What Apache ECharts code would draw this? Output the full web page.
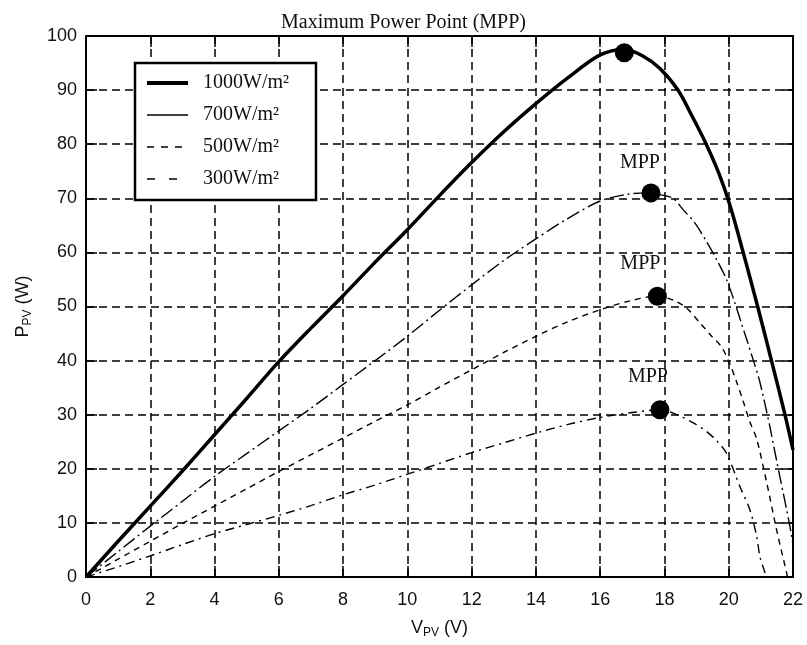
<!DOCTYPE html>
<html>
<head>
<meta charset="utf-8">
<script src="https://cdn.jsdelivr.net/npm/echarts@6/dist/echarts.min.js"></script>
<style>html,body{margin:0;padding:0;background:#fff}#c{width:807px;height:645px}</style>
</head>
<body>
<div id="c"></div>
<script>
// ---- data ----
const seriesNames = ['1000W/m²', '700W/m²', '500W/m²', '300W/m²'];

const v1000 = [0,1,2,3,4,5,6,7,8,9,10,11,12,13,14,15,16,16.75,17.3,17.86,18.42,18.85,19.3,19.7,20.05,20.45,20.9,21.33,21.75,22];
const p1000 = [0,6.6,13.1,19.6,26.3,33.0,39.8,46.0,52.0,58.2,64.2,70.5,76.6,82.3,87.5,92.3,96.5,97.5,96.4,94.0,90,85.3,80,74.5,68.5,60,50,40,30,23.5];

const v700 = [0,1,2,3,4,5,6,7,8,9,10,11,12,13,14,15,16,16.8,17.5,18.0,18.27,18.58,18.95,19.31,19.62,19.93,20.2,20.4,20.56,20.92,21.02,21.28,21.49,21.59,21.9,22];
const p700 = [0,4.7,9.4,14.0,18.6,22.8,27.0,31.2,35.6,40.0,44.5,49.3,54.0,58.5,62.5,66.3,69.5,70.7,71.0,70.5,70.0,67.9,65.4,62.0,58.7,55.0,50.5,46.8,43.9,37.1,34.8,27.8,21.5,18.6,9.5,6];

const v500 = [0,1,2,3,4,5,6,7,8,9,10,11,12,13,14,15,16,16.9,17.75,18.27,18.69,19.1,19.47,19.78,20.04,20.25,20.45,20.65,20.87,21.18,21.49,21.8,21.83];
const p500 = [0,3.3,6.6,9.9,13.1,16.3,19.5,22.6,25.7,28.8,31.8,35.1,38.3,41.5,44.5,47.2,49.4,51.0,51.9,51.2,49.7,47.0,44.5,42.5,39.3,36.0,32.5,28.8,25.5,17.5,8.7,0.8,0];

const v300 = [0,1,2,3,4,5,6,7,8,9,10,11,12,13,14,15,16,17,17.86,18.27,18.9,19.31,19.62,19.93,20.35,20.66,20.87,20.97,21.13,21.18];
const p300 = [0,1.9,3.9,6.0,8.0,9.7,11.4,13.2,15.2,17.0,19.0,21.0,23.0,24.8,26.6,28.2,29.5,30.4,30.9,30.3,28.5,26.9,25.2,22.9,16.7,12.4,7.5,3.8,0.8,0];

const mppV = [16.75, 17.58, 17.78, 17.86];
const mppP = [96.9, 71.0, 51.9, 30.9];
const mppText = ['', 'MPP', 'MPP', 'MPP'];

const xTicks = {min: 0, max: 22, step: 2};
const yTicks = {min: 0, max: 100, step: 10};

const titleText = 'Maximum Power Point (MPP)';
// ---------------------------------------

const zip = (a, b) => a.map((v, i) => [v, b[i]]);
const SERIF = '"Liberation Serif","Times New Roman",serif';
const SANS = '"Liberation Sans",Arial,sans-serif';

const lineStyles = [
  {color: '#000', width: 3.5, type: 'solid'},
  {color: '#000', width: 1.4, type: [14, 4, 2, 4]},
  {color: '#000', width: 1.4, type: [6, 5]},
  {color: '#000', width: 1.4, type: [9, 5, 2, 5]}
];
const legendLineStyles = [
  {color: '#000', width: 4, type: 'solid', opacity: 1},
  {color: '#000', width: 1.5, type: 'solid', opacity: 1},
  {color: '#000', width: 1.5, type: [7, 7], opacity: 1},
  {color: '#000', width: 1.5, type: [8, 14], opacity: 1}
];
const labelOffsets = [[0, 0], [-11, -30], [-17, -32], [-12, -33]];

const curves = [zip(v1000, p1000), zip(v700, p700), zip(v500, p500), zip(v300, p300)];

const chart = echarts.init(document.getElementById('c'), null, {renderer: 'canvas'});

const axisCommon = {
  axisLine: {show: true, onZero: false, lineStyle: {color: '#000', width: 2}},
  axisTick: {show: true, inside: true, length: 11, lineStyle: {color: '#000', width: 1.5}},
};

chart.setOption({
  animation: false,
  backgroundColor: '#fff',
  title: {
    text: titleText, left: 'center', top: 8,
    textStyle: {fontFamily: SERIF, fontWeight: 'normal', fontSize: 20, color: '#111'}
  },
  grid: {left: 86, right: 14, top: 36, bottom: 68, containLabel: false},
  legend: {
    orient: 'vertical', left: 135, top: 63,
    backgroundColor: '#fff', borderColor: '#000', borderWidth: 2.5, borderRadius: 0,
    padding: [10, 27, 11, 10],
    itemWidth: 41, itemHeight: 14, itemGap: 12,
    data: seriesNames.map((n, i) => ({name: n, lineStyle: legendLineStyles[i], itemStyle: {opacity: 0}})),
    textStyle: {fontFamily: SERIF, fontSize: 20, color: '#111', padding: [0, 0, 0, 10]}
  },
  xAxis: [
    Object.assign({
      type: 'value', min: xTicks.min, max: xTicks.max, interval: xTicks.step, position: 'bottom',
      name: 'V{sub|PV} (V)', nameLocation: 'middle', nameGap: 40,
      nameTextStyle: {fontFamily: SANS, fontSize: 18, color: '#111', lineHeight: 22,
        rich: {sub: {fontFamily: SANS, fontSize: 12, lineHeight: 12, verticalAlign: 'bottom', color: '#111'}}},
      axisLabel: {fontFamily: SANS, fontSize: 18, color: '#111', margin: 14},
      splitLine: {show: true, lineStyle: {color: '#000', width: 1.5, type: [8, 5]}}
    }, axisCommon),
    Object.assign({
      type: 'value', min: xTicks.min, max: xTicks.max, interval: xTicks.step, position: 'top',
      axisLabel: {show: false}, splitLine: {show: false}
    }, axisCommon)
  ],
  yAxis: [
    Object.assign({
      type: 'value', min: yTicks.min, max: yTicks.max, interval: yTicks.step, position: 'left',
      name: 'P{sub|PV} (W)', nameLocation: 'middle', nameGap: 52, nameRotate: 90,
      nameTextStyle: {fontFamily: SANS, fontSize: 18, color: '#111', lineHeight: 22,
        rich: {sub: {fontFamily: SANS, fontSize: 12, lineHeight: 12, verticalAlign: 'bottom', color: '#111'}}},
      axisLabel: {fontFamily: SANS, fontSize: 18, color: '#111', margin: 9},
      splitLine: {show: true, lineStyle: {color: '#000', width: 1.5, type: [8, 5]}}
    }, axisCommon),
    Object.assign({
      type: 'value', min: yTicks.min, max: yTicks.max, interval: yTicks.step, position: 'right',
      axisLabel: {show: false}, splitLine: {show: false}
    }, axisCommon)
  ],
  series: seriesNames.map((n, i) => ({
    name: n, type: 'line', data: curves[i], symbol: 'none', smooth: 0.3,
    lineStyle: lineStyles[i], itemStyle: {color: '#000'}, z: 3 + (3 - i)
  })).concat([{
    name: 'mpp', type: 'scatter', symbol: 'circle', symbolSize: 19, z: 10,
    itemStyle: {color: '#000', opacity: 1},
    emphasis: {disabled: true},
    data: mppV.map((v, i) => ({
      value: [v, mppP[i]],
      label: {show: mppText[i] !== '', formatter: mppText[i], position: 'inside',
        offset: labelOffsets[i], fontFamily: SERIF, fontSize: 20, color: '#111'}
    }))
  }])
});
</script>
</body>
</html>
